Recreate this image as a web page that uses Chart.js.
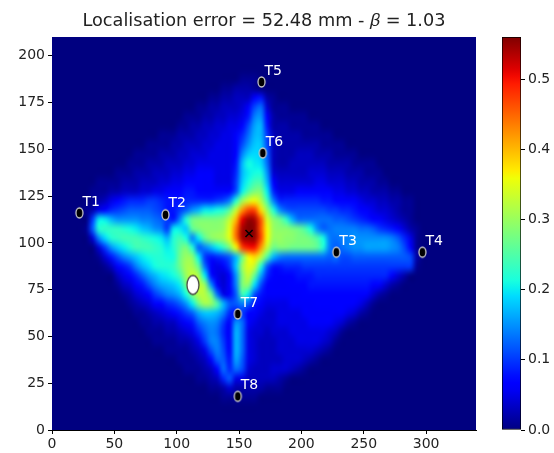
<!DOCTYPE html>
<html>
<head>
<meta charset="utf-8">
<title>Localisation error</title>
<script src="https://cdn.jsdelivr.net/npm/chart.js@4/dist/chart.umd.min.js"></script>
<style>
  html, body { margin: 0; padding: 0; background: #fff; }
  #wrap { position: relative; width: 554px; height: 453px; overflow: hidden; }
  canvas { position: absolute; top: 0; }
  #map { left: 0; }
  #bar { left: 480px; }
</style>
</head>
<body>
<div id="wrap">
  <canvas id="map" width="554" height="453"></canvas>
  <canvas id="bar" width="74" height="453"></canvas>
</div>
<script>
const titleText = "Localisation error = 52.48 mm - 𝛽 = 1.03";
const xTicks = [0, 50, 100, 150, 200, 250, 300];
const yTicks = [0, 25, 50, 75, 100, 125, 150, 175, 200];
const barTicks = [0, 0.1, 0.2, 0.3, 0.4, 0.5];
const xMax = 340;
const yMax = 210;
const barMax = 0.56;

const cellSize = 5;
const sensorNames = ["T1", "T2", "T3", "T4", "T5", "T6", "T7", "T8"];
const sensorX = [22, 91, 228, 297, 168, 169, 149, 149];
const sensorY = [116, 115, 95, 95, 186, 148, 62, 18];
const sourceX = [113];
const sourceY = [77.5];
const estimateX = [158];
const estimateY = [105];

// heat map in hundredths, one line per 5 mm row from y = 187.5 down
// heatStart is the cell column of the first value on the line, all other cells are 0
const heatTopY = 187.5;
const heatStart = [30, 27, 25, 23, 21, 20, 17, 15, 13, 12, 10, 7, 6, 6, 5, 6, 5, 6, 7, 7, 8, 10, 10, 11, 12, 13, 14, 15, 16, 18, 20, 21, 23, 25, 27];
const heatRows = [
  [1,1,1],
  [1,1,2,2,2,1],
  [1,1,2,2,3,3,3,7,8,2,1],
  [1,1,2,2,3,3,3,4,6,11,13,4,1,1,1],
  [1,1,1,2,2,3,3,4,4,5,8,14,15,6,2,1,1,1,1,1],
  [1,1,2,2,3,3,4,4,5,5,7,11,16,17,8,2,2,2,1,1,1,1,1],
  [1,1,1,2,2,2,3,3,4,4,5,5,6,9,13,17,17,10,3,2,2,2,2,1,1,1,1,1],
  [1,1,1,1,2,2,3,3,3,4,4,5,5,5,6,11,15,18,18,11,3,2,2,2,2,2,2,2,1,1,1,1],
  [1,1,1,1,2,2,2,3,3,4,4,4,5,5,5,5,7,14,18,19,18,12,3,2,2,2,3,3,3,2,2,2,1,1,1,1],
  [1,1,1,2,2,2,3,3,3,4,4,5,5,5,5,5,5,8,17,21,20,19,13,3,2,2,3,3,3,3,3,3,2,2,2,2,1,1,1,1],
  [1,1,1,2,2,2,3,3,3,4,4,5,5,6,6,6,5,5,5,9,17,20,21,21,15,4,3,3,3,3,3,4,4,4,3,3,3,2,2,2,1,1,1],
  [1,1,1,1,2,2,2,3,3,3,4,4,5,5,6,7,7,6,6,5,5,5,10,18,21,24,24,17,6,4,4,4,4,4,4,5,5,4,4,4,3,3,2,2,2,1,1],
  [1,1,1,2,2,3,3,3,4,4,5,5,6,6,7,8,8,7,6,6,6,6,7,11,20,25,28,28,20,9,5,5,5,6,6,6,6,6,6,5,5,4,4,3,3,2,2,2,1,1],
  [1,2,3,5,7,8,9,9,9,10,10,9,8,8,8,9,9,9,9,9,10,11,14,22,30,34,36,32,24,14,9,9,9,9,9,9,9,8,8,7,7,6,6,5,4,4,3,3,2,2,1,1],
  [1,2,5,7,9,10,11,12,12,12,12,11,10,8,8,10,12,15,17,20,20,21,22,26,33,42,47,47,38,30,22,15,12,11,11,11,11,11,11,10,10,9,9,8,7,6,5,4,4,3,2,1,1],
  [10,20,20,17,15,15,15,15,14,14,13,12,10,8,14,22,27,28,28,28,28,29,33,40,51,55,54,46,34,29,27,23,17,13,13,13,13,13,13,12,12,11,10,9,8,7,6,5,4,3,2,1],
  [1,12,22,23,23,23,22,21,20,18,17,15,14,10,20,20,18,26,28,29,29,29,30,35,44,54,56,55,46,36,30,29,29,28,27,25,21,15,12,13,14,14,14,14,13,13,12,10,9,8,6,4,2,1],
  [4,14,19,22,23,24,24,24,23,22,21,20,17,22,24,21,14,20,26,29,30,31,35,44,54,55,55,47,36,30,30,29,29,28,28,27,25,21,14,13,14,14,15,15,15,15,15,15,14,12,9,5,1],
  [4,10,15,18,20,22,24,24,24,23,22,20,22,26,28,22,12,14,17,20,23,28,36,47,50,50,42,33,27,28,28,27,27,27,27,26,22,14,12,13,14,15,15,16,16,16,16,15,14,11,6,1],
  [1,4,8,11,14,16,18,20,21,22,22,21,21,27,30,29,20,10,8,9,10,12,17,27,36,38,33,25,17,14,13,13,13,13,13,13,13,12,13,11,11,12,12,12,12,12,12,12,12,12,11,2],
  [1,3,6,8,10,14,17,19,21,22,22,23,27,31,31,26,13,6,5,6,10,18,30,35,33,22,12,8,8,9,9,9,10,10,10,10,10,10,10,10,10,10,10,10,10,10,10,10,10,10,1],
  [3,5,7,9,12,15,17,19,20,21,24,30,33,31,20,8,5,4,7,15,28,33,26,16,9,7,6,7,7,8,8,8,9,9,9,9,9,9,9,9,9,9,9,9,6,4,2],
  [1,3,4,6,8,11,14,16,17,18,20,27,32,33,30,15,6,4,7,14,28,29,19,11,7,6,6,6,7,7,7,8,8,8,8,8,8,8,8,8,8,7,6,4,2,1],
  [1,2,4,5,7,10,12,14,15,17,21,28,32,32,27,13,5,6,12,24,20,11,8,6,6,6,6,6,6,7,7,7,7,7,7,7,7,7,7,6,4,2,1],
  [1,2,3,4,6,7,9,10,12,15,20,27,31,30,25,17,12,12,14,12,8,6,5,5,5,5,6,6,6,6,7,7,7,7,7,7,6,5,3,1],
  [1,1,2,3,4,5,6,8,10,12,16,18,18,17,14,9,8,10,7,6,5,4,4,5,5,5,5,6,6,6,6,6,6,6,5,4,2,1],
  [1,1,2,2,3,3,5,6,8,12,14,15,14,10,6,15,13,6,5,4,4,4,5,5,5,5,5,6,6,6,6,5,4,2,1],
  [1,1,1,2,2,3,4,5,9,12,14,13,9,6,17,13,5,4,4,3,4,4,4,5,5,5,5,5,5,4,3,1],
  [1,1,1,1,2,2,3,5,10,14,14,10,6,17,13,5,4,3,3,3,4,4,4,5,5,5,5,4,3,1],
  [1,1,1,1,2,3,5,11,14,11,7,17,13,5,4,3,3,3,4,4,4,4,4,4,3,2,1],
  [1,1,1,2,3,6,12,12,8,16,12,5,4,3,3,3,3,4,4,4,3,2,1],
  [1,1,1,2,3,7,13,9,13,11,4,3,3,3,4,4,4,3,2,1],
  [1,1,2,3,9,12,5,5,3,3,3,3,3,2,1],
  [1,1,2,4,2,2,2,2,2,1,1,1],
  [1,1,1,1,1,1],
];

function jet(t) {
  t = Math.min(1, Math.max(0, t));
  const ramp = (stops) => {
    for (let i = 1; i < stops.length; i++) {
      if (t <= stops[i][0]) {
        const a = stops[i - 1];
        const b = stops[i];
        return a[1] + ((b[1] - a[1]) * (t - a[0])) / (b[0] - a[0]);
      }
    }
    return stops[stops.length - 1][1];
  };
  return [
    ramp([[0, 0], [0.35, 0], [0.66, 1], [0.89, 1], [1, 0.5]]),
    ramp([[0, 0], [0.125, 0], [0.375, 1], [0.64, 1], [0.91, 0], [1, 0]]),
    ramp([[0, 0.5], [0.11, 1], [0.34, 1], [0.65, 0], [1, 0]]),
  ].map((c) => Math.round(c * 255));
}

function heatCells() {
  const cells = [];
  heatRows.forEach((row, r) => {
    row.forEach((value, i) => {
      cells.push({
        x: (heatStart[r] + i + 0.5) * cellSize,
        y: heatTopY - r * cellSize,
        v: value / 100,
      });
    });
  });
  return cells;
}

// ellipse markers, the axes are not equal so the discs come out taller than wide
function ellipseMarker(w, h, fill, stroke) {
  const c = document.createElement("canvas");
  c.width = w + 4;
  c.height = h + 4;
  const g = c.getContext("2d");
  g.ellipse(c.width / 2, c.height / 2, w / 2, h / 2, 0, 0, Math.PI * 2);
  g.fillStyle = fill;
  g.fill();
  g.lineWidth = 1.3;
  g.strokeStyle = stroke;
  g.stroke();
  return c;
}

const heatPlugin = {
  id: "heat",
  beforeDatasetsDraw(chart) {
    const cols = xMax / cellSize;
    const rows = yMax / cellSize;
    const off = document.createElement("canvas");
    off.width = cols;
    off.height = rows;
    const g = off.getContext("2d");
    const img = g.createImageData(cols, rows);
    for (let i = 0; i < cols * rows; i++) {
      const c = jet(0);
      img.data.set([c[0], c[1], c[2], 255], i * 4);
    }
    chart.data.datasets[0].data.forEach((cell) => {
      const col = Math.floor(cell.x / cellSize);
      const row = Math.floor((yMax - cell.y) / cellSize);
      const c = jet(cell.v / barMax);
      img.data.set([c[0], c[1], c[2], 255], (row * cols + col) * 4);
    });
    g.putImageData(img, 0, 0);

    const { x, y } = chart.scales;
    const ctx = chart.ctx;
    const left = x.getPixelForValue(0);
    const top = y.getPixelForValue(yMax);
    ctx.save();
    ctx.imageSmoothingEnabled = true;
    ctx.imageSmoothingQuality = "high";
    ctx.drawImage(off, left, top, x.getPixelForValue(xMax) - left, y.getPixelForValue(0) - top);
    ctx.restore();
  },
  afterDatasetsDraw(chart) {
    const { x, y } = chart.scales;
    const ctx = chart.ctx;
    ctx.save();
    ctx.fillStyle = "#fff";
    ctx.font = "14px 'DejaVu Sans'";
    ctx.textAlign = "left";
    ctx.textBaseline = "middle";
    sensorNames.forEach((name, i) => {
      ctx.fillText(name, x.getPixelForValue(sensorX[i]) + 3, y.getPixelForValue(sensorY[i]) - 11);
    });
    ctx.restore();
  },
};

const tickFont = { family: "'DejaVu Sans'", size: 14 };

new Chart(document.getElementById("map"), {
  type: "scatter",
  plugins: [heatPlugin],
  data: {
    datasets: [
      { label: "heat", data: heatCells(), pointRadius: 0 },
      {
        label: "sensors",
        data: sensorX.map((x, i) => ({ x, y: sensorY[i] })),
        pointStyle: ellipseMarker(7, 10, "#000", "#c8c8c8"),
      },
      {
        label: "source",
        data: sourceX.map((x, i) => ({ x, y: sourceY[i] })),
        pointStyle: ellipseMarker(12, 19, "#fff", "#444"),
      },
      {
        label: "estimate",
        data: estimateX.map((x, i) => ({ x, y: estimateY[i] })),
        pointStyle: "crossRot",
        pointRadius: 5,
        borderColor: "#000",
        borderWidth: 1.5,
      },
    ],
  },
  options: {
    responsive: false,
    animation: false,
    layout: { padding: { right: 78 } },
    plugins: {
      legend: { display: false },
      tooltip: { enabled: false },
      title: {
        display: true,
        text: titleText,
        fullSize: false,
        color: "#222",
        font: { family: "'DejaVu Sans'", size: 17.7, weight: "normal" },
        padding: { top: 11, bottom: 4.8 },
      },
    },
    scales: {
      x: {
        type: "linear",
        min: 0,
        max: xMax,
        afterBuildTicks: (scale) => {
          scale.ticks = xTicks.map((value) => ({ value }));
        },
        afterFit: (scale) => {
          scale.height = 23;
        },
        grid: { drawOnChartArea: false, tickLength: 4, color: "#000" },
        border: { color: "#000" },
        ticks: { color: "#222", font: tickFont, maxRotation: 0, padding: 2 },
      },
      y: {
        type: "linear",
        min: 0,
        max: yMax,
        afterBuildTicks: (scale) => {
          scale.ticks = yTicks.map((value) => ({ value }));
        },
        afterFit: (scale) => {
          scale.width = 52;
        },
        grid: { drawOnChartArea: false, tickLength: 4, color: "#000" },
        border: { color: "#000" },
        ticks: { color: "#222", font: tickFont, padding: 3 },
      },
    },
  },
});

// colour bar lives in its own small chart so its axis can sit clear of the map
const barCanvas = document.getElementById("bar");
const barGradient = barCanvas.getContext("2d").createLinearGradient(0, 430, 0, 37);
for (let s = 0; s <= 50; s++) {
  const c = jet(s / 50);
  barGradient.addColorStop(s / 50, `rgb(${c[0]},${c[1]},${c[2]})`);
}

new Chart(barCanvas, {
  type: "bar",
  data: {
    labels: [""],
    datasets: [
      {
        data: [barMax],
        backgroundColor: barGradient,
        borderColor: "#000",
        borderWidth: 1,
        borderSkipped: false,
        barPercentage: 1,
        categoryPercentage: 1,
      },
    ],
  },
  options: {
    responsive: false,
    animation: false,
    layout: { padding: { left: 22, top: 37, bottom: 23 } },
    plugins: { legend: { display: false }, tooltip: { enabled: false } },
    scales: {
      x: { display: false },
      y: {
        position: "right",
        min: 0,
        max: barMax,
        afterBuildTicks: (scale) => {
          scale.ticks = barTicks.map((value) => ({ value }));
        },
        afterFit: (scale) => {
          scale.width = 33;
        },
        grid: { drawOnChartArea: false, tickLength: 4, color: "#000" },
        border: { display: false },
        ticks: {
          color: "#222",
          font: tickFont,
          padding: 3,
          callback: (v) => v.toFixed(1),
        },
      },
    },
  },
});
</script>
</body>
</html>
